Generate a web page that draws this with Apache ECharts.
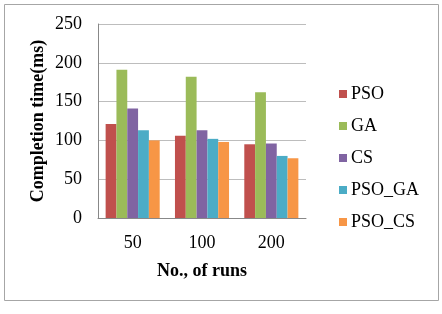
<!DOCTYPE html>
<html>
<head>
<meta charset="utf-8">
<script src="https://cdn.jsdelivr.net/npm/echarts@6/dist/echarts.min.js"></script>
<style>
  html, body { margin: 0; padding: 0; background: #fff; }
  #chart { width: 442px; height: 314px; }
</style>
</head>
<body>
<div id="chart"></div>
<script>
const runs = ['50', '100', '200']
const psoTimes = [121, 106, 95]
const gaTimes = [191, 182, 162]
const csTimes = [141, 113, 96]
const psoGaTimes = [113, 102, 80]
const psoCsTimes = [100, 98, 77]

const serif = 'Liberation Serif'
const chart = echarts.init(document.getElementById('chart'))

function bar(name, data, color) {
  return {
    name: name,
    type: 'bar',
    data: data,
    barGap: '0%',
    barCategoryGap: '22%',
    itemStyle: { color: color }
  }
}

chart.setOption({
  animation: false,
  graphic: [
    {
      type: 'rect',
      shape: { x: 4.5, y: 4.5, width: 434, height: 296 },
      style: { fill: 'none', stroke: '#a6a6a6', lineWidth: 1 }
    }
  ],
  grid: { left: 98, right: 136, top: 24, bottom: 96 },
  legend: {
    orient: 'vertical',
    left: 334,
    top: 80,
    icon: 'rect',
    itemWidth: 8,
    itemHeight: 8,
    itemGap: 14,
    textStyle: { fontFamily: serif, fontSize: 18, lineHeight: 18, color: '#000', padding: [0, 0, 0, -1] },
    data: ['PSO', 'GA', 'CS', 'PSO_GA', 'PSO_CS']
  },
  xAxis: {
    type: 'category',
    data: runs,
    name: 'No., of runs',
    nameLocation: 'middle',
    nameGap: 44,
    nameTextStyle: { fontFamily: serif, fontSize: 18, fontWeight: 'bold', color: '#000' },
    axisLine: { lineStyle: { color: '#888' } },
    axisTick: { show: false },
    axisLabel: { fontFamily: serif, fontSize: 18, color: '#000', margin: 16 }
  },
  yAxis: {
    type: 'value',
    min: 0,
    max: 250,
    interval: 50,
    name: 'Completion time(ms)',
    nameLocation: 'middle',
    nameGap: 51,
    nameTextStyle: { fontFamily: serif, fontSize: 18, fontWeight: 'bold', color: '#000' },
    axisLine: { show: true, lineStyle: { color: '#888' } },
    axisTick: { show: false },
    axisLabel: { fontFamily: serif, fontSize: 18, color: '#000', margin: 16 },
    splitLine: { lineStyle: { color: '#bdbdbd' } }
  },
  series: [
    bar('PSO', psoTimes, '#c0504d'),
    bar('GA', gaTimes, '#9bbb59'),
    bar('CS', csTimes, '#8064a2'),
    bar('PSO_GA', psoGaTimes, '#4bacc6'),
    bar('PSO_CS', psoCsTimes, '#f79646')
  ]
})
</script>
</body>
</html>
